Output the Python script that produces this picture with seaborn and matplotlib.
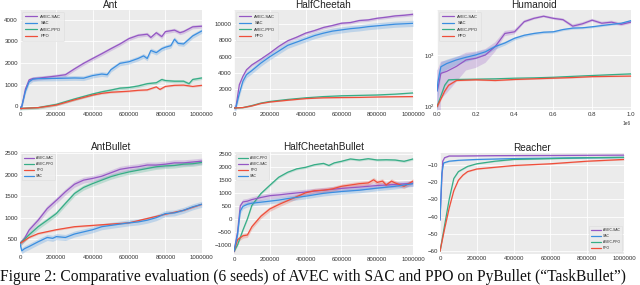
import numpy as np
import pandas as pd
import matplotlib
matplotlib.use('Agg')
import matplotlib.pyplot as plt
import matplotlib.ticker as mticker
import seaborn as sns

# ---- data ----
C_AVEC_SAC = '#9457c4'
C_SAC = '#3a8ee0'
C_AVEC_PPO = '#36ad86'
C_PPO = '#ef4e3a'

# Ant
ant_avec_sac_x = [0, 10000, 30000, 50000, 70000, 100000, 150000, 200000, 250000, 300000, 350000, 400000, 450000, 500000, 550000, 600000, 650000, 700000, 720000, 750000, 780000, 800000, 850000, 880000, 900000, 950000, 1000000]
ant_avec_sac_y = [-80, 0, 800, 1220, 1280, 1300, 1350, 1400, 1460, 1730, 1985, 2210, 2430, 2660, 2880, 3130, 3280, 3330, 3180, 3400, 3220, 3450, 3520, 3400, 3450, 3670, 3700]
ant_sac_x = [0, 10000, 30000, 50000, 70000, 100000, 200000, 300000, 350000, 400000, 450000, 480000, 500000, 550000, 600000, 650000, 680000, 700000, 720000, 750000, 780000, 800000, 830000, 850000, 870000, 900000, 930000, 950000, 1000000]
ant_sac_y = [-80, 0, 700, 1130, 1250, 1280, 1290, 1310, 1300, 1420, 1490, 1460, 1690, 1985, 2060, 2210, 2330, 2210, 2580, 2480, 2660, 2730, 2800, 3100, 2910, 2880, 3100, 3250, 3480]
ant_avec_ppo_x = [0, 100000, 200000, 300000, 400000, 450000, 500000, 550000, 600000, 650000, 700000, 750000, 780000, 800000, 850000, 900000, 930000, 950000, 1000000]
ant_avec_ppo_y = [-100, -60, 90, 340, 570, 670, 750, 840, 870, 940, 1045, 1090, 1240, 1190, 1160, 1160, 1045, 1240, 1310]
ant_ppo_x = [0, 100000, 200000, 300000, 400000, 450000, 500000, 600000, 650000, 700000, 750000, 770000, 800000, 850000, 900000, 950000, 1000000]
ant_ppo_y = [-100, -60, 60, 300, 520, 600, 650, 700, 740, 760, 900, 780, 920, 970, 980, 920, 970]

# HalfCheetah
hc_avec_sac_x = [0, 10000, 30000, 50000, 70000, 100000, 150000, 200000, 250000, 300000, 350000, 400000, 450000, 500000, 550000, 600000, 650000, 700000, 750000, 800000, 850000, 900000, 950000, 1000000]
hc_avec_sac_y = [-300, -300, 2570, 3600, 4400, 5000, 5700, 6450, 7270, 7960, 8400, 8900, 9220, 9600, 9840, 10120, 10200, 10450, 10530, 10730, 10860, 11020, 11100, 11220]
hc_sac_x = [0, 10000, 30000, 50000, 70000, 100000, 150000, 200000, 250000, 300000, 350000, 400000, 450000, 500000, 550000, 600000, 650000, 700000, 750000, 800000, 850000, 900000, 950000, 1000000]
hc_sac_y = [-300, -300, 1500, 3000, 3800, 4300, 5220, 6000, 6700, 7400, 7800, 8200, 8600, 8900, 9150, 9300, 9450, 9550, 9700, 9800, 9900, 10000, 10050, 10100]
hc_avec_ppo_x = [0, 50000, 100000, 150000, 200000, 300000, 400000, 500000, 600000, 700000, 800000, 900000, 1000000]
hc_avec_ppo_y = [-300, -250, 0, 300, 500, 750, 950, 1100, 1200, 1250, 1300, 1400, 1550]
hc_ppo_x = [0, 50000, 100000, 150000, 200000, 300000, 400000, 500000, 600000, 700000, 800000, 900000, 1000000]
hc_ppo_y = [-300, -250, -50, 250, 430, 650, 850, 950, 980, 1000, 1050, 1080, 1100]

# Humanoid (log scale)
hum_avec_sac_x = [0, 5000, 20000, 50000, 100000, 150000, 200000, 250000, 300000, 350000, 400000, 450000, 500000, 550000, 600000, 650000, 700000, 750000, 800000, 850000, 900000, 950000, 1000000]
hum_avec_sac_y = [200, 230, 440, 480, 600, 800, 860, 1000, 1450, 2600, 2800, 4400, 5100, 5600, 5100, 4800, 3600, 4000, 4700, 4100, 4300, 3900, 4300]
hum_sac_x = [0, 5000, 20000, 50000, 100000, 150000, 200000, 250000, 300000, 350000, 400000, 450000, 500000, 550000, 600000, 650000, 700000, 750000, 800000, 850000, 900000, 950000, 1000000]
hum_sac_y = [200, 300, 590, 680, 800, 900, 1000, 1150, 1450, 1700, 2100, 2400, 2600, 2750, 2800, 3100, 3300, 3350, 3500, 3700, 3900, 4100, 4600]
hum_avec_ppo_x = [0, 20000, 40000, 60000, 100000, 200000, 300000, 400000, 500000, 600000, 700000, 800000, 900000, 1000000]
hum_avec_ppo_y = [100, 160, 260, 330, 335, 340, 345, 355, 360, 370, 385, 400, 415, 430]
hum_ppo_x = [0, 20000, 40000, 60000, 100000, 200000, 300000, 400000, 500000, 600000, 700000, 800000, 900000, 1000000]
hum_ppo_y = [100, 140, 200, 260, 320, 330, 320, 335, 345, 355, 365, 380, 385, 390]

# AntBullet
ab_avec_sac_x = [0, 25000, 50000, 100000, 150000, 200000, 250000, 300000, 350000, 400000, 450000, 500000, 550000, 600000, 650000, 700000, 750000, 800000, 850000, 900000, 950000, 1000000]
ab_avec_sac_y = [400, 520, 710, 940, 1210, 1400, 1600, 1775, 1870, 1910, 1960, 2040, 2120, 2155, 2180, 2220, 2220, 2240, 2270, 2270, 2290, 2310]
ab_avec_ppo_x = [0, 50000, 100000, 150000, 200000, 250000, 300000, 350000, 400000, 450000, 500000, 550000, 600000, 650000, 700000, 750000, 800000, 850000, 900000, 950000, 1000000]
ab_avec_ppo_y = [400, 600, 790, 940, 1095, 1330, 1560, 1700, 1790, 1870, 1950, 2010, 2060, 2100, 2140, 2180, 2200, 2210, 2240, 2250, 2280]
ab_ppo_x = [0, 50000, 100000, 200000, 300000, 400000, 500000, 600000, 700000, 800000, 900000, 1000000]
ab_ppo_y = [400, 540, 630, 720, 790, 820, 850, 880, 980, 1080, 1170, 1310]
ab_sac_x = [0, 10000, 25000, 50000, 100000, 150000, 180000, 200000, 250000, 300000, 350000, 400000, 450000, 500000, 550000, 600000, 650000, 700000, 750000, 800000, 850000, 900000, 950000, 1000000]
ab_sac_y = [400, 230, 280, 330, 440, 540, 520, 560, 540, 620, 670, 720, 790, 820, 850, 880, 900, 940, 1000, 1095, 1110, 1170, 1250, 1310]

# HalfCheetahBullet
hcb_avec_ppo_x = [0, 20000, 50000, 75000, 100000, 150000, 200000, 250000, 300000, 350000, 400000, 450000, 500000, 530000, 560000, 600000, 650000, 700000, 750000, 800000, 850000, 900000, 950000, 1000000]
hcb_avec_ppo_y = [-1250, -1000, -430, 0, 520, 970, 1290, 1600, 1790, 1920, 1980, 2080, 2130, 2050, 2150, 2210, 2300, 2260, 2310, 2260, 2270, 2260, 2210, 2300]
hcb_avec_sac_x = [0, 20000, 35000, 50000, 75000, 100000, 150000, 200000, 250000, 300000, 400000, 500000, 600000, 700000, 800000, 900000, 1000000]
hcb_avec_sac_y = [-1250, -500, 500, 650, 680, 740, 820, 890, 920, 960, 1030, 1100, 1170, 1220, 1280, 1320, 1370]
hcb_ppo_x = [0, 20000, 50000, 75000, 100000, 150000, 200000, 250000, 300000, 350000, 400000, 450000, 500000, 550000, 600000, 650000, 700000, 750000, 780000, 800000, 830000, 850000, 880000, 900000, 930000, 950000, 1000000]
hcb_ppo_y = [-1250, -800, -650, -620, -300, 100, 380, 550, 700, 850, 1000, 1080, 1100, 1150, 1250, 1300, 1350, 1380, 1500, 1400, 1450, 1300, 1450, 1380, 1300, 1250, 1450]
hcb_sac_x = [0, 20000, 35000, 50000, 75000, 100000, 150000, 200000, 250000, 300000, 400000, 500000, 600000, 700000, 800000, 900000, 1000000]
hcb_sac_y = [-1250, -600, 300, 480, 560, 600, 640, 680, 720, 780, 870, 980, 1050, 1100, 1180, 1250, 1350]

# Reacher
re_avec_sac_x = [0, 5000, 10000, 15000, 25000, 50000, 100000, 300000, 600000, 1000000]
re_avec_sac_y = [-42, -30, -18, -8, -6, -5, -5, -4.8, -4.7, -4.5]
re_sac_x = [0, 5000, 10000, 20000, 50000, 100000, 200000, 400000, 700000, 1000000]
re_sac_y = [-42, -28, -15, -9, -8, -7.5, -7, -6.5, -6.1, -5.8]
re_avec_ppo_x = [0, 25000, 50000, 75000, 100000, 125000, 150000, 200000, 300000, 400000, 600000, 800000, 1000000]
re_avec_ppo_y = [-60, -45, -30, -18, -14, -12.5, -11, -9.5, -8, -7, -6.5, -6, -5.8]
re_ppo_x = [0, 25000, 50000, 75000, 100000, 125000, 150000, 200000, 300000, 400000, 600000, 800000, 1000000]
re_ppo_y = [-60, -47, -35, -25, -19, -16, -14, -12.5, -11.5, -10.5, -9.5, -8, -7]

# half-widths of the shaded seed bands (data units)
ant_band = [90, 110, 70, 40]
hc_band = [180, 380, 60, 40]
hum_band = [300, 150, 10, 8]
ab_band = [70, 60, 20, 70]
hcb_band = [40, 110, 90, 100]
re_band = [0.3, 0.3, 0.3, 0.3]

CAPTION = 'Figure 2: Comparative evaluation (6 seeds) of AVEC with SAC and PPO on PyBullet (\u201cTaskBullet\u201d)'

# ---- drawing ----
sns.set_style('darkgrid', {'axes.facecolor': '#ebebeb', 'grid.color': 'white'})
plt.rcParams['font.family'] = ['Liberation Sans', 'DejaVu Sans']

fig = plt.figure(figsize=(6.4, 2.85), dpi=100)


def panel(rect, title, series, bands, ylim, legend_loc='upper left', legend_size=3.0, log=False):
    ax = fig.add_axes(rect)
    for (name, x, y, col), b in zip(series, bands):
        df = pd.DataFrame({'step': x, 'ret': y})
        sns.lineplot(data=df, x='step', y='ret', ax=ax, color=col, lw=0.9, label=name)
        yy = np.array(y, dtype=float)
        ax.fill_between(x, yy - b, yy + b, color=col, alpha=0.25, lw=0)
    if log:
        ax.set_yscale('log')
        ax.yaxis.set_minor_formatter(mticker.NullFormatter())
    ax.set_xlim(0, 1000000)
    ax.set_ylim(*ylim)
    ax.set_xlabel('')
    ax.set_ylabel('')
    ax.set_title(title, fontsize=7.2, pad=1.5, color='#222222')
    ax.tick_params(labelsize=4.4, pad=1.5, length=0, colors='#333333')
    ax.grid(True, color='white', lw=0.6)
    leg = ax.legend(loc=legend_loc, fontsize=legend_size, frameon=True, handlelength=3,
                    borderpad=0.6, labelspacing=0.6, facecolor='#ebebeb', edgecolor='#d8d8d8')
    leg.get_frame().set_linewidth(0.4)
    for s in ax.spines.values():
        s.set_visible(False)
    return ax


ax1 = panel([0.0312, 0.614, 0.284, 0.351], 'Ant',
            [('AVEC-SAC', ant_avec_sac_x, ant_avec_sac_y, C_AVEC_SAC),
             ('SAC', ant_sac_x, ant_sac_y, C_SAC),
             ('AVEC-PPO', ant_avec_ppo_x, ant_avec_ppo_y, C_AVEC_PPO),
             ('PPO', ant_ppo_x, ant_ppo_y, C_PPO)], ant_band, (-170, 4450))
ax1.set_xticks([0, 200000, 400000, 600000, 800000, 1000000])
ax1.xaxis.set_major_formatter(mticker.FormatStrFormatter('%d'))

ax2 = panel([0.3656, 0.614, 0.2797, 0.351], 'HalfCheetah',
            [('AVEC-SAC', hc_avec_sac_x, hc_avec_sac_y, C_AVEC_SAC),
             ('SAC', hc_sac_x, hc_sac_y, C_SAC),
             ('AVEC-PPO', hc_avec_ppo_x, hc_avec_ppo_y, C_AVEC_PPO),
             ('PPO', hc_ppo_x, hc_ppo_y, C_PPO)], hc_band, (-550, 11750))
ax2.set_xticks([0, 200000, 400000, 600000, 800000, 1000000])
ax2.xaxis.set_major_formatter(mticker.FormatStrFormatter('%d'))

ax3 = panel([0.6828, 0.614, 0.303, 0.351], 'Humanoid',
            [('AVEC-SAC', hum_avec_sac_x, hum_avec_sac_y, C_AVEC_SAC),
             ('SAC', hum_sac_x, hum_sac_y, C_SAC),
             ('AVEC-PPO', hum_avec_ppo_x, hum_avec_ppo_y, C_AVEC_PPO),
             ('PPO', hum_ppo_x, hum_ppo_y, C_PPO)], hum_band, (86, 7400), log=True)
ax3.ticklabel_format(axis='x', style='sci', scilimits=(0, 0))
ax3.xaxis.get_offset_text().set_fontsize(3.4)

ax4 = panel([0.0312, 0.1123, 0.284, 0.354], 'AntBullet',
            [('AVEC-SAC', ab_avec_sac_x, ab_avec_sac_y, C_AVEC_SAC),
             ('AVEC-PPO', ab_avec_ppo_x, ab_avec_ppo_y, C_AVEC_PPO),
             ('PPO', ab_ppo_x, ab_ppo_y, C_PPO),
             ('SAC', ab_sac_x, ab_sac_y, C_SAC)], ab_band, (180, 2520), legend_size=2.4)
ax4.set_xticks([0, 200000, 400000, 600000, 800000, 1000000])
ax4.xaxis.set_major_formatter(mticker.FormatStrFormatter('%d'))

ax5 = panel([0.3656, 0.105, 0.2797, 0.361], 'HalfCheetahBullet',
            [('AVEC-PPO', hcb_avec_ppo_x, hcb_avec_ppo_y, C_AVEC_PPO),
             ('AVEC-SAC', hcb_avec_sac_x, hcb_avec_sac_y, C_AVEC_SAC),
             ('PPO', hcb_ppo_x, hcb_ppo_y, C_PPO),
             ('SAC', hcb_sac_x, hcb_sac_y, C_SAC)], hcb_band, (-1390, 2560), legend_size=2.4)
ax5.set_xticks([0, 200000, 400000, 600000, 800000, 1000000])
ax5.xaxis.set_major_formatter(mticker.FormatStrFormatter('%d'))

ax6 = panel([0.6875, 0.109, 0.2875, 0.354], 'Reacher',
            [('AVEC-SAC', re_avec_sac_x, re_avec_sac_y, C_AVEC_SAC),
             ('SAC', re_sac_x, re_sac_y, C_SAC),
             ('AVEC-PPO', re_avec_ppo_x, re_avec_ppo_y, C_AVEC_PPO),
             ('PPO', re_ppo_x, re_ppo_y, C_PPO)], re_band, (-61.5, -3.3),
            legend_loc='lower right', legend_size=2.4)
ax6.set_xticks([0, 200000, 400000, 600000, 800000, 1000000])
ax6.xaxis.set_major_formatter(mticker.FormatStrFormatter('%d'))
ax6.set_yticks([-60, -50, -40, -30, -20, -10])

# caption kept fully inside the canvas (baseline a few px above the bottom edge)
fig.text(0.0, 0.015, CAPTION, fontsize=11.2, family=['Liberation Serif', 'DejaVu Serif'],
         ha='left', va='baseline', color='#111111')

fig.savefig('out.png', dpi=100, facecolor='white')
